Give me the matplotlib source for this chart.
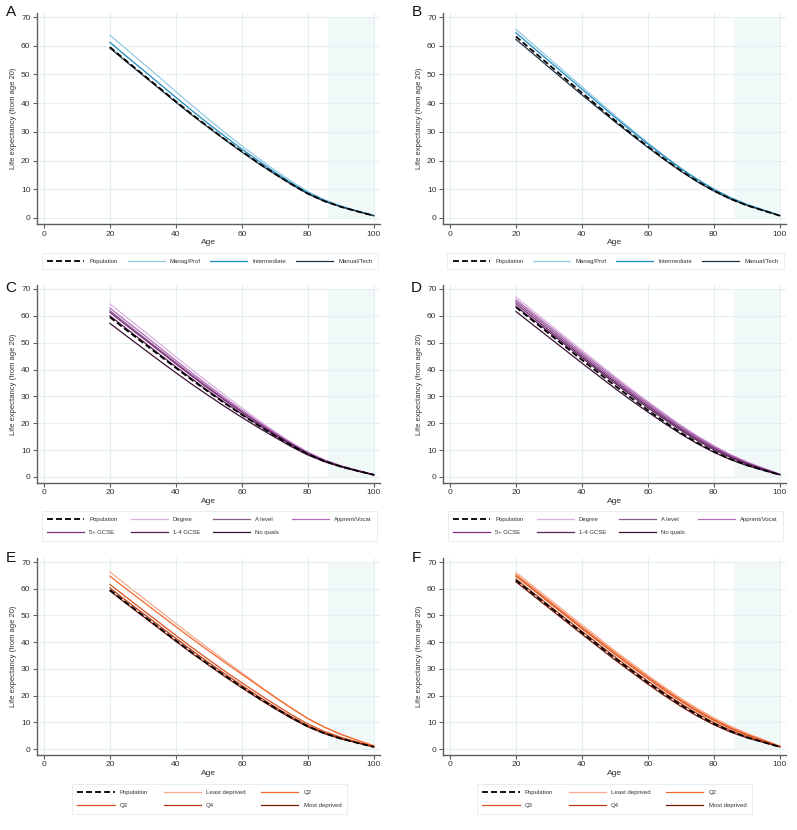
import matplotlib
matplotlib.use("Agg")
import matplotlib.pyplot as plt

plt.rcParams['font.family'] = ['Liberation Sans', 'DejaVu Sans']

# ---------------- data ----------------
ages = [20, 25, 30, 35, 40, 45, 50, 55, 60, 65, 70, 75, 80, 85, 90, 95, 100]

# Population (men: panels A, C, E; women: panels B, D, F)
pop_men = [59.5, 54.7, 50.0, 45.3, 40.6, 36.0, 31.6, 27.3, 23.2, 19.2, 15.4, 11.8, 8.5, 5.9, 3.9, 2.3, 0.8]
pop_women = [63.2, 58.3, 53.4, 48.5, 43.6, 38.8, 34.0, 29.4, 24.9, 20.6, 16.5, 12.8, 9.5, 6.7, 4.4, 2.6, 0.8]

# Panel A - men by social class
a_manag = [63.7, 58.8, 53.9, 49.0, 44.0, 39.1, 34.3, 29.6, 25.1, 20.8, 16.7, 12.8, 9.2, 6.4, 4.2, 2.5, 0.9]
a_inter = [61.2, 56.3, 51.6, 46.8, 42.0, 37.3, 32.7, 28.3, 24.0, 19.9, 15.9, 12.2, 8.8, 6.1, 4.0, 2.4, 0.8]
a_manual = [59.2, 54.4, 49.7, 45.0, 40.3, 35.7, 31.4, 27.1, 23.0, 19.0, 15.3, 11.7, 8.4, 5.8, 3.9, 2.3, 0.8]

# Panel B - women by social class
b_manag = [65.7, 60.7, 55.7, 50.7, 45.7, 40.7, 35.7, 30.9, 26.2, 21.7, 17.4, 13.5, 10.1, 7.1, 4.7, 2.8, 0.9]
b_inter = [64.5, 59.6, 54.7, 49.8, 44.9, 40.0, 35.1, 30.4, 25.8, 21.4, 17.2, 13.4, 10.0, 7.1, 4.7, 2.8, 0.9]
b_manual = [62.2, 57.4, 52.5, 47.7, 42.9, 38.2, 33.5, 29.0, 24.6, 20.3, 16.3, 12.6, 9.4, 6.6, 4.4, 2.6, 0.8]

# Panel C - men by education
c_degree = [64.4, 59.5, 54.6, 49.7, 44.7, 39.8, 35.0, 30.3, 25.7, 21.2, 16.9, 12.9, 9.3, 6.4, 4.2, 2.5, 0.9]
c_alevel = [61.9, 57.0, 52.2, 47.4, 42.6, 37.8, 33.2, 28.7, 24.4, 20.2, 16.2, 12.4, 8.9, 6.2, 4.1, 2.4, 0.8]
c_apprent = [62.9, 58.0, 53.2, 48.3, 43.4, 38.6, 33.9, 29.3, 24.9, 20.6, 16.5, 12.6, 9.1, 6.3, 4.1, 2.4, 0.9]
c_gcse5 = [61.3, 56.4, 51.7, 46.9, 42.1, 37.4, 32.8, 28.4, 24.1, 20.0, 16.0, 12.3, 8.8, 6.1, 4.0, 2.4, 0.8]
c_gcse14 = [60.0, 55.2, 50.5, 45.7, 41.0, 36.4, 31.9, 27.6, 23.4, 19.4, 15.5, 11.9, 8.6, 5.9, 3.9, 2.3, 0.8]
c_noquals = [57.2, 52.5, 47.9, 43.3, 38.8, 34.4, 30.2, 26.1, 22.2, 18.4, 14.8, 11.3, 8.2, 5.7, 3.8, 2.2, 0.8]

# Panel D - women by education
d_degree = [67.0, 62.0, 57.1, 52.1, 47.2, 42.3, 37.4, 32.7, 28.1, 23.6, 19.3, 15.3, 11.7, 8.4, 5.6, 3.3, 1.0]
d_alevel = [65.3, 60.4, 55.5, 50.6, 45.7, 40.9, 36.1, 31.5, 27.0, 22.6, 18.4, 14.6, 11.1, 8.0, 5.3, 3.1, 1.0]
d_apprent = [66.0, 61.1, 56.2, 51.3, 46.4, 41.6, 36.8, 32.1, 27.6, 23.2, 18.9, 15.0, 11.4, 8.2, 5.5, 3.2, 1.0]
d_gcse5 = [64.5, 59.6, 54.7, 49.9, 45.0, 40.2, 35.5, 30.9, 26.4, 22.1, 17.9, 14.1, 10.7, 7.7, 5.1, 3.0, 0.9]
d_gcse14 = [63.6, 58.8, 54.0, 49.2, 44.4, 39.6, 34.9, 30.3, 25.8, 21.5, 17.4, 13.6, 10.2, 7.3, 4.8, 2.8, 0.9]
d_noquals = [61.6, 56.8, 52.0, 47.2, 42.4, 37.7, 33.0, 28.5, 24.2, 20.0, 16.0, 12.4, 9.2, 6.5, 4.3, 2.5, 0.8]

# Panel E - men by area deprivation
e_least = [66.3, 61.4, 56.6, 51.8, 47.0, 42.2, 37.6, 33.0, 28.5, 24.0, 19.6, 15.4, 11.5, 8.2, 5.6, 3.3, 1.2]
e_q2 = [64.7, 59.9, 55.2, 50.5, 45.8, 41.2, 36.7, 32.3, 28.0, 23.7, 19.4, 15.3, 11.4, 8.2, 5.5, 3.3, 1.2]
e_q3 = [61.6, 56.8, 52.0, 47.3, 42.5, 37.9, 33.4, 29.0, 24.8, 20.7, 16.7, 12.9, 9.4, 6.6, 4.4, 2.6, 0.9]
e_q4 = [60.3, 55.5, 50.8, 46.1, 41.4, 36.8, 32.3, 28.0, 23.8, 19.7, 15.8, 12.1, 8.7, 6.1, 4.0, 2.4, 0.8]
e_most = [59.2, 54.4, 49.7, 45.0, 40.3, 35.7, 31.3, 27.0, 22.9, 18.9, 15.1, 11.5, 8.3, 5.8, 3.8, 2.3, 0.8]

# Panel F - women by area deprivation
f_least = [66.1, 61.2, 56.3, 51.4, 46.5, 41.7, 36.8, 32.2, 27.6, 23.2, 19.0, 15.2, 11.7, 8.6, 5.9, 3.5, 1.1]
f_q2 = [65.3, 60.4, 55.5, 50.6, 45.7, 40.9, 36.1, 31.5, 27.0, 22.6, 18.4, 14.6, 11.1, 8.1, 5.5, 3.3, 1.0]
f_q3 = [64.7, 59.8, 54.9, 50.0, 45.1, 40.3, 35.5, 30.9, 26.4, 22.0, 17.9, 14.1, 10.7, 7.7, 5.2, 3.1, 0.9]
f_q4 = [63.6, 58.7, 53.8, 48.9, 44.1, 39.3, 34.5, 29.9, 25.4, 21.1, 17.0, 13.3, 9.9, 7.0, 4.6, 2.7, 0.9]
f_most = [62.6, 57.7, 52.8, 47.9, 43.0, 38.2, 33.4, 28.8, 24.3, 20.0, 16.0, 12.3, 9.1, 6.4, 4.2, 2.5, 0.8]

x_ticks = [0, 20, 40, 60, 80, 100]
y_ticks = [0, 10, 20, 30, 40, 50, 60, 70]
shade_range = [86, 100]

class_labels = ["Manag/Prof", "Intermediate", "Manual/Tech"]
class_colors = ["#93c9e3", "#1f8cbf", "#1f3446"]
edu_labels = ["Degree", "A level", "Apprent/Vocat", "5+ GCSE", "1-4 GCSE", "No quals"]
edu_colors = ["#dbb0de", "#8a5a8c", "#b46cba", "#7c2c7a", "#5a1f56", "#3a0f34"]
dep_labels = ["Least deprived", "Q2", "Q3", "Q4", "Most deprived"]
dep_colors = ["#f7ab8e", "#f4682c", "#d9521f", "#b83c18", "#7a1d0d"]

panels = [
    ("A", pop_men, [a_manag, a_inter, a_manual], class_labels, class_colors),
    ("B", pop_women, [b_manag, b_inter, b_manual], class_labels, class_colors),
    ("C", pop_men, [c_degree, c_alevel, c_apprent, c_gcse5, c_gcse14, c_noquals], edu_labels, edu_colors),
    ("D", pop_women, [d_degree, d_alevel, d_apprent, d_gcse5, d_gcse14, d_noquals], edu_labels, edu_colors),
    ("E", pop_men, [e_least, e_q2, e_q3, e_q4, e_most], dep_labels, dep_colors),
    ("F", pop_women, [f_least, f_q2, f_q3, f_q4, f_most], dep_labels, dep_colors),
]

# ---------------- layout ----------------
W, H = 797, 830
fig = plt.figure(figsize=(W / 100, H / 100), dpi=100)

col_left = [36.7, 442.7]
ax_w = 343.0
rows = [(224.3, 211.6), (482.9, 198.0), (754.9, 196.9)]  # (bottom px from top, height px)
leg_y = [261, 526, 799]
leg_x = [[210, 615.5], [209.5, 615.5], [209.5, 614.5]]
colspace = [1.6, 2.15, 2.6]
letter_y = [12, 288, 558]

grid_c = "#e5eff2"
spine_c = "#5e5e5e"

for i, (letter, pop, series, labels, colors) in enumerate(panels):
    r, c = divmod(i, 2)
    bpx, hpx = rows[r]
    ax = fig.add_axes([col_left[c] / W, 1 - bpx / H, ax_w / W, hpx / H])
    ax.set_xlim(-2.2, 101.8)
    ax.set_ylim(-2.2, 71.5)
    ax.set_xticks(x_ticks)
    ax.set_yticks(y_ticks)
    ax.grid(True, color=grid_c, linewidth=0.8, zorder=0)
    ax.set_axisbelow(True)
    ax.fill_between(shade_range, 0, 70, color="#e2f0f0", alpha=0.45, linewidth=0, zorder=0.8)
    for s in ["top", "right"]:
        ax.spines[s].set_visible(False)
    for s in ["left", "bottom"]:
        ax.spines[s].set_color(spine_c)
        ax.spines[s].set_linewidth(1.0)
    ax.tick_params(direction="out", length=3, width=0.8, color=spine_c,
                   labelsize=6, labelcolor="#333333", pad=1.5)
    ax.set_xlabel("Age", fontsize=6, color="#333333", labelpad=1)
    ax.set_ylabel("Life expectancy (from age 20)", fontsize=5.5, color="#333333", labelpad=3)

    handles = []
    for ys, lab, col in zip(series, labels, colors):
        h, = ax.plot(ages, ys, color=col, linewidth=0.9, label=lab, zorder=2)
        handles.append(h)
    hp, = ax.plot(ages, pop, color="black", linewidth=1.3, dashes=(3.3, 1.7),
                  label="Population", zorder=3)
    all_h = [hp] + handles

    if len(all_h) == 4:
        ncol = 4
        order = all_h
    elif len(all_h) == 7:
        ncol = 4
        order = [all_h[k] for k in [0, 4, 1, 5, 2, 6, 3]]
    else:
        ncol = 3
        order = [all_h[k] for k in [0, 3, 1, 4, 2, 5]]
    leg = ax.legend(handles=order, labels=[h.get_label() for h in order],
                    loc="center", bbox_to_anchor=(leg_x[r][c] / W, 1 - leg_y[r] / H),
                    bbox_transform=fig.transFigure, ncol=ncol, fontsize=4.3,
                    handlelength=6.2, handletextpad=0.9, columnspacing=colspace[r],
                    labelspacing=1.4, borderpad=0.9, frameon=True, fancybox=False,
                    edgecolor="#dde7ea")
    leg.get_frame().set_linewidth(0.6)
    for t in leg.get_texts():
        t.set_color("#333333")

    fig.text((col_left[c] - 26) / W, 1 - letter_y[r] / H, letter, fontsize=11,
             ha="center", va="center", color="#111111")

fig.savefig("out.png", dpi=100, facecolor="white")
